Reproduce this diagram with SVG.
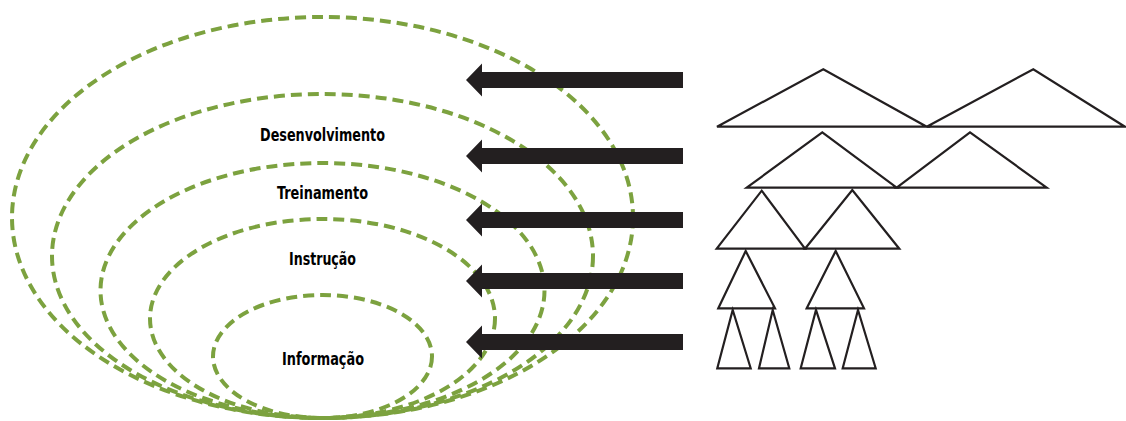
<svg xmlns="http://www.w3.org/2000/svg" width="1126" height="421" viewBox="0 0 1126 421">
<style>
.ring{fill:none;stroke:#7ca23f;stroke-width:4;stroke-dasharray:11 6}
.lbl{font-family:"DejaVu Sans Condensed","DejaVu Sans","Liberation Sans",sans-serif;font-stretch:condensed;font-weight:bold;font-size:18.5px;fill:#000}
.tri{fill:#fff;stroke:#231f20;stroke-width:2.2;stroke-linejoin:miter}
.arr{fill:#231f20}
</style>
<rect width="1126" height="421" fill="#fff"/>
<g id="rings">
<g id="desenvolvimento">
<ellipse class="ring" cx="322.5" cy="217.5" rx="310.5" ry="200.5"/>
</g>
<g id="treinamento">
<ellipse class="ring" cx="322.5" cy="256" rx="270.5" ry="162"/>
<text class="lbl" x="260" y="141" textLength="125" lengthAdjust="spacingAndGlyphs">Desenvolvimento</text>
</g>
<g id="instrucao">
<ellipse class="ring" cx="322.5" cy="290.5" rx="222" ry="127.5"/>
<text class="lbl" x="277" y="199" textLength="91" lengthAdjust="spacingAndGlyphs">Treinamento</text>
</g>
<g id="informacao-outer">
<ellipse class="ring" cx="322.5" cy="318.5" rx="172.5" ry="99.5"/>
<text class="lbl" x="289" y="265" textLength="67" lengthAdjust="spacingAndGlyphs">Instrução</text>
</g>
<g id="informacao">
<ellipse class="ring" cx="322.5" cy="356.5" rx="109.5" ry="61.5"/>
<text class="lbl" x="282" y="365" textLength="82" lengthAdjust="spacingAndGlyphs">Informação</text>
</g>
</g>
<g id="connectors">
<path class="arr" d="M466,80 L482,63.5 L482,72 L683,72 L683,88 L482,88 L482,96.5 Z"/>
<path class="arr" d="M466,156 L482,139.5 L482,148 L683,148 L683,164 L482,164 L482,172.5 Z"/>
<path class="arr" d="M466,220 L482,203.5 L482,212 L683,212 L683,228 L482,228 L482,236.5 Z"/>
<path class="arr" d="M466,281 L482,264.5 L482,273 L683,273 L683,289 L482,289 L482,297.5 Z"/>
<path class="arr" d="M466,342 L482,325.5 L482,334 L683,334 L683,350 L482,350 L482,358.5 Z"/>
</g>
<g id="tree">
<g id="row1">
<polygon class="tri" points="717,126.7 823.3,69.3 926.7,126.7"/>
<polygon class="tri" points="926.7,126.7 1033.3,69.3 1125,126.7"/>
</g>
<g id="row2">
<polygon class="tri" points="746.7,187.7 822.3,132.3 896.7,187.7"/>
<polygon class="tri" points="896.7,187.7 970,132.3 1046.7,187.7"/>
</g>
<g id="row3">
<polygon class="tri" points="716.7,248.7 761.7,190.7 805,248.7"/>
<polygon class="tri" points="805,248.7 852.3,190 899.3,248.7"/>
</g>
<g id="row4">
<polygon class="tri" points="718.3,308.3 745.7,251 775,308.3"/>
<polygon class="tri" points="806.7,308.3 835.7,251 864,308.3"/>
</g>
<g id="row5">
<polygon class="tri" points="717.3,368.3 732.7,310 750.7,368.3"/>
<polygon class="tri" points="759,368.3 772.7,310 789.3,368.3"/>
<polygon class="tri" points="800.7,368.3 816,310 835,368.3"/>
<polygon class="tri" points="842.7,368.3 858,310 875.7,368.3"/>
</g>
</g>
</svg>
